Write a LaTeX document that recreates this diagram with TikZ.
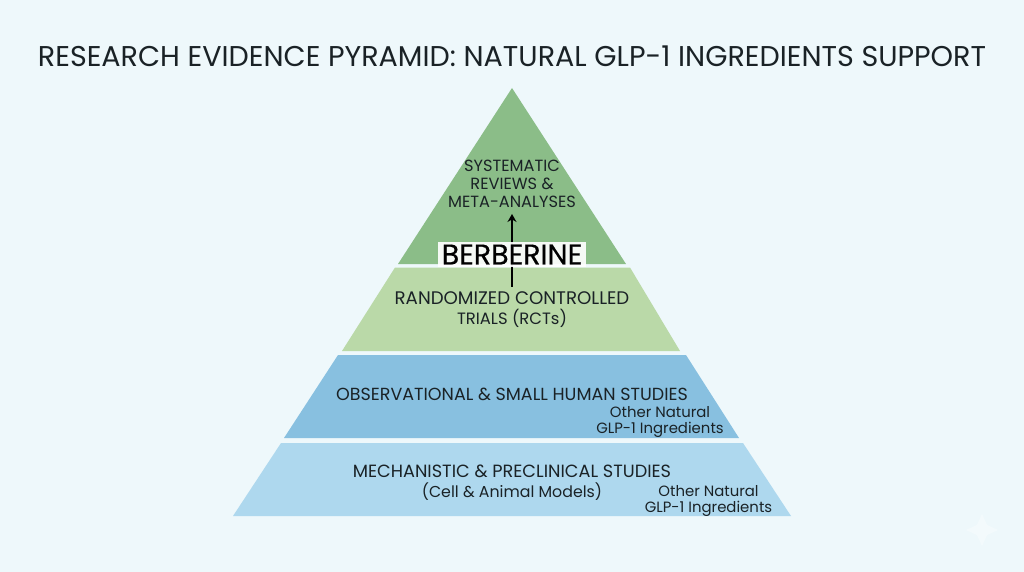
\documentclass[tikz,border=0pt]{standalone}
\usepackage{fontspec}
\setmainfont{Poppins}
\newfontfamily\berbfont[RawFeature={embolden=0.5}]{Poppins}
\definecolor{bgc}{HTML}{EEF8FB}
\definecolor{tieronec}{HTML}{8BBD88}
\definecolor{tiertwoc}{HTML}{BAD9A8}
\definecolor{tierthreec}{HTML}{88C0E0}
\definecolor{tierfourc}{HTML}{AED8EE}
\definecolor{inkc}{HTML}{1A2226}
\newcommand{\minorline}[1]{{\fontsize{15.8}{20}\selectfont #1}}
\newcommand{\trialline}[1]{{\fontsize{16.4}{20}\selectfont #1}}
\tikzset{
  tier/.style={draw=none},
  lab/.style={text=inkc,align=center,inner sep=0pt,font=\fontsize{17.7}{20}\selectfont},
  toplab/.style={text=inkc,align=center,inner sep=0pt,font=\fontsize{16.2}{18}\selectfont},
  sublab/.style={text=inkc,align=center,inner sep=0pt,font=\fontsize{14.9}{16}\selectfont},
  link/.style={black,line width=1.8pt,-{Stealth[length=8pt,width=9pt]}},
}
\usetikzlibrary{arrows.meta}
\begin{document}
\begin{tikzpicture}[x=1pt,y=-1pt]
\useasboundingbox (0,0) rectangle (1024,572);
\fill[bgc] (0,0) rectangle (1024,572);
\fill[white,opacity=.35] (982,514) -- (987,525) -- (998,530) -- (987,535) -- (982,546) -- (977,535) -- (966,530) -- (977,525) -- cycle;
\node[text=inkc,inner sep=0pt,font=\fontsize{28.6}{32}\selectfont] (title) at (512,56) {RESEARCH EVIDENCE PYRAMID: NATURAL GLP-1 INGREDIENTS SUPPORT};
\fill[tier,tieronec] (512,88) -- (626,264) -- (398,264) -- cycle;
\fill[tier,tiertwoc] (395,267.5) -- (630,267.5) -- (680,351) -- (342,351) -- cycle;
\fill[tier,tierthreec] (338,355) -- (686,355) -- (739,438) -- (284,438) -- cycle;
\fill[tier,tierfourc] (281,443) -- (743,443) -- (791,516) -- (233,516) -- cycle;
\node[toplab] (sys) at (512,184) {SYSTEMATIC\\REVIEWS \&\\META-ANALYSES};
\node[lab,font=\fontsize{18.2}{20}\selectfont] (rct) at (512,310) {RANDOMIZED CONTROLLED\\\trialline{TRIALS (RCTs)}};
\node[lab,font=\fontsize{17.5}{20}\selectfont] (obs) at (512,394) {OBSERVATIONAL \& SMALL HUMAN STUDIES};
\node[lab] (mech) at (512,482.5) {MECHANISTIC \& PRECLINICAL STUDIES\\\minorline{(Cell \& Animal Models)}};
\node[sublab] (oa) at (660,422) {Other Natural\\GLP-1 Ingredients};
\node[sublab] (ob) at (708.5,501) {Other Natural\\GLP-1 Ingredients};
\draw[link] ([yshift=5pt]rct.north) -- ([yshift=-6pt]sys.south);
\node[fill=white,fill opacity=.92,text opacity=1,text=black,inner sep=0pt,minimum width=148pt,minimum height=25pt,font=\berbfont\fontsize{28.5}{30}\selectfont] (berb) at (512,254.5) {BERBERINE};
\end{tikzpicture}
\end{document}
